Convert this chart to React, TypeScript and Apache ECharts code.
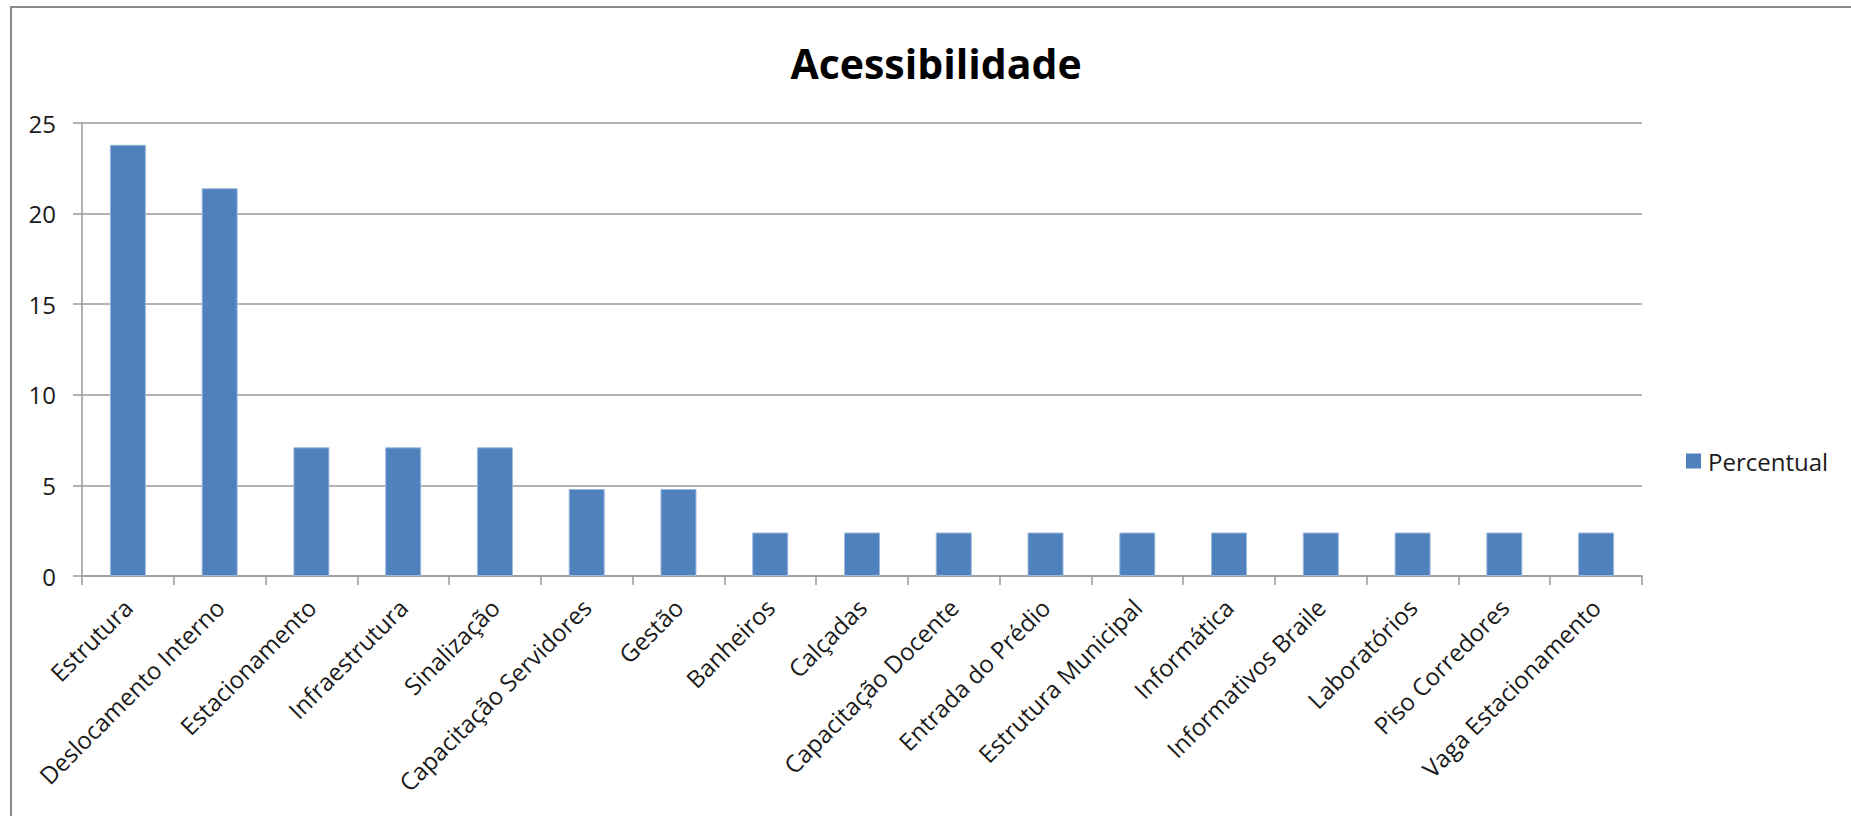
import React, { useEffect, useRef } from "react";
import * as echarts from "echarts";

const titleText = "Acessibilidade";
const seriesName = "Percentual";
const categories = [
  "Estrutura",
  "Deslocamento Interno",
  "Estacionamento",
  "Infraestrutura",
  "Sinalização",
  "Capacitação Servidores",
  "Gestão",
  "Banheiros",
  "Calçadas",
  "Capacitação Docente",
  "Entrada do Prédio",
  "Estrutura Municipal",
  "Informática",
  "Informativos Braile",
  "Laboratórios",
  "Piso Corredores",
  "Vaga Estacionamento",
];
const values = [23.8, 21.4, 7.1, 7.1, 7.1, 4.8, 4.8, 2.4, 2.4, 2.4, 2.4, 2.4, 2.4, 2.4, 2.4, 2.4, 2.4];
const yMin = 0;
const yMax = 25;
const yInterval = 5;

const FONT = "'Open Sans', 'DejaVu Sans', sans-serif";

export default function App() {
  const ref = useRef<HTMLDivElement>(null);
  useEffect(() => {
    if (!ref.current) return;
    const chart = echarts.init(ref.current, null, { renderer: "svg" });
    chart.setOption({
      animation: false,
      backgroundColor: "#ffffff",
      textStyle: { fontFamily: FONT },
      graphic: [
        {
          type: "rect",
          shape: { x: 11, y: 7, width: 1860, height: 830 },
          style: { fill: "none", stroke: "#8a8a8a", lineWidth: 2 },
          silent: true,
          z: -1,
        },
      ],
      title: {
        text: titleText,
        left: 931,
        textAlign: "center",
        top: 37,
        textStyle: { fontFamily: FONT, fontSize: 41, fontWeight: "bold", color: "#000000" },
      },
      legend: {
        data: [seriesName],
        left: 1681,
        top: 444,
        itemWidth: 15,
        itemHeight: 15,
        icon: "rect",
        itemStyle: { borderWidth: 0 },
        textStyle: { fontFamily: FONT, fontSize: 24, color: "#1a1a1a", padding: [0, 0, 0, 2] },
      },
      grid: { left: 82, right: 209, top: 123, bottom: 240, containLabel: false },
      xAxis: {
        type: "category",
        data: categories,
        boundaryGap: true,
        axisLine: { lineStyle: { color: "#9a9a9a", width: 1.5 } },
        axisTick: { show: true, length: 9, alignWithLabel: false, lineStyle: { color: "#9a9a9a", width: 1.5 } },
        axisLabel: {
          rotate: 45,
          interval: 0,
          margin: 27,
          fontFamily: FONT,
          fontSize: 24,
          color: "#1a1a1a",
        },
      },
      yAxis: {
        type: "value",
        min: yMin,
        max: yMax,
        interval: yInterval,
        axisLine: { show: true, lineStyle: { color: "#9a9a9a", width: 1.5 } },
        axisTick: { show: true, length: 9, lineStyle: { color: "#9a9a9a", width: 1.5 } },
        splitLine: { show: true, lineStyle: { color: "#9a9a9a", width: 1.5 } },
        axisLabel: { margin: 26, fontFamily: FONT, fontSize: 24, color: "#1a1a1a" },
      },
      series: [
        {
          name: seriesName,
          type: "bar",
          data: values,
          barWidth: 36,
          itemStyle: { color: "#4F81BD", borderColor: "#9bb8dd", borderWidth: 1 },
        },
      ],
    });
    return () => chart.dispose();
  }, []);
  return (
    <div
      ref={ref}
      style={{ position: "fixed", left: 0, top: 0, width: 1851, height: 816 }}
    />
  );
}
